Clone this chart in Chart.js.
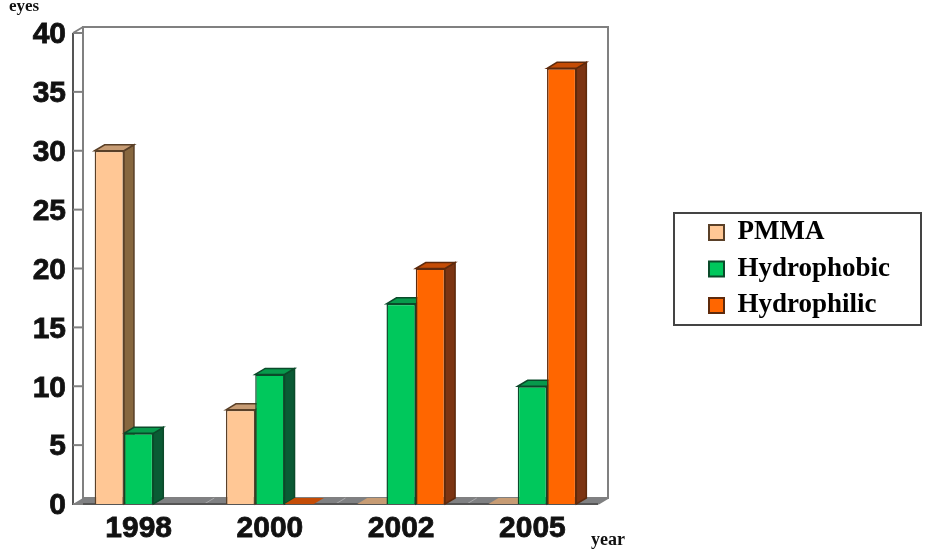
<!DOCTYPE html>
<html>
<head>
<meta charset="utf-8">
<style>html,body{margin:0;padding:0;background:#fff}canvas{display:block}</style>
<script src="https://cdn.jsdelivr.net/npm/chart.js@4"></script>
</head>
<body>
<canvas id="c" width="935" height="552"></canvas>
<script>
const categories = ['1998', '2000', '2002', '2005'];
const pmma = [30, 8, 0, 0];
const hydrophobic = [6, 11, 17, 10];
const hydrophilic = [null, 0, 20, 37];
const seriesNames = ['PMMA', 'Hydrophobic', 'Hydrophilic'];
const frontColors = ['#FFC795', '#00C85C', '#FF6600'];
const topColors = ['#C79C74', '#079A4C', '#C44C06'];
const sideColors = ['#87673F', '#0A5A34', '#7C3412'];
const edgeColors = ['#5A4028', '#0B4A2A', '#5E2A0C'];
const yTitle = 'eyes';
const xTitle = 'year';

const DX = 10, DY = 6;
const legendFrame = {x: 674, y: 213, w: 247, h: 112};
const legendAnchor = {x: 709, y: 219};

function poly(ctx, pts, fill, stroke) {
  ctx.beginPath();
  pts.forEach((p, i) => i ? ctx.lineTo(p[0], p[1]) : ctx.moveTo(p[0], p[1]));
  ctx.closePath();
  ctx.fillStyle = fill;
  ctx.fill();
  if (stroke) { ctx.strokeStyle = stroke; ctx.lineWidth = 1.5; ctx.stroke(); }
}

const scene = {
  id: 'scene',
  afterLayout(chart) {
    const l = chart.legend;
    const pad = l.options.labels.padding;
    const h = l.height;
    l.left = legendAnchor.x - pad;
    l.top = legendAnchor.y - pad;
    l.right = legendFrame.x + legendFrame.w;
    l.bottom = l.top + h + 40;
  },
  beforeDraw(chart) {
    const {ctx, chartArea: a, scales: {x, y}} = chart;
    ctx.save();
    // back wall + left wall
    ctx.strokeStyle = '#808080';
    ctx.lineWidth = 2;
    ctx.strokeRect(a.left + DX, a.top - DY, a.right - a.left, a.bottom - a.top);
    ctx.beginPath();
    ctx.moveTo(a.left, a.top); ctx.lineTo(a.left + DX, a.top - DY);
    ctx.moveTo(a.right, a.bottom); ctx.lineTo(a.right + DX, a.bottom - DY);
    ctx.stroke();
    // floor
    poly(ctx, [[a.left, a.bottom], [a.left + DX, a.bottom - DY], [a.right + DX, a.bottom - DY], [a.right, a.bottom]], '#7F8082');
    ctx.strokeStyle = '#A9A9AB';
    ctx.lineWidth = 1;
    for (let i = 1; i < categories.length; i++) {
      const px = (x.getPixelForValue(i - 1) + x.getPixelForValue(i)) / 2;
      ctx.beginPath(); ctx.moveTo(px, a.bottom); ctx.lineTo(px + DX, a.bottom - DY); ctx.stroke();
    }
    // left axis and ticks
    ctx.strokeStyle = '#555';
    ctx.lineWidth = 2;
    ctx.beginPath();
    ctx.moveTo(a.left, a.top); ctx.lineTo(a.left, a.bottom); ctx.lineTo(a.right, a.bottom);
    ctx.stroke();
    ctx.strokeStyle = '#808080';
    y.ticks.forEach(t => {
      const py = y.getPixelForValue(t.value);
      ctx.beginPath(); ctx.moveTo(a.left, py); ctx.lineTo(a.left + DX, py); ctx.stroke();
    });
    // legend frame
    ctx.strokeStyle = '#444';
    ctx.lineWidth = 2;
    ctx.strokeRect(legendFrame.x, legendFrame.y, legendFrame.w, legendFrame.h);
    // axis words
    ctx.fillStyle = '#111';
    ctx.textAlign = 'left';
    ctx.textBaseline = 'alphabetic';
    ctx.font = 'bold 17px "Liberation Serif"';
    ctx.fillText(yTitle, 9, 11);
    ctx.font = 'bold 18px "Liberation Serif"';
    ctx.fillText(xTitle, 591, 545);
    ctx.restore();
  },
  beforeDatasetsDraw(chart) {
    const ctx = chart.ctx;
    ctx.save();
    categories.forEach((_, c) => {
      chart.data.datasets.forEach((ds, d) => {
        if (ds.data[c] === null) return;
        const b = chart.getDatasetMeta(d).data[c];
        const l = b.x - b.width / 2, r = b.x + b.width / 2;
        if (b.base - b.y > 0.5) {
          poly(ctx, [[r, b.y], [r + DX, b.y - DY], [r + DX, b.base - DY], [r, b.base]], sideColors[d], edgeColors[d]);
        }
        poly(ctx, [[l, b.y], [l + DX, b.y - DY], [r + DX, b.y - DY], [r, b.y]], topColors[d], b.base - b.y > 0.5 ? edgeColors[d] : null);
      });
    });
    ctx.restore();
  }
};

const series = [pmma, hydrophobic, hydrophilic];
new Chart(document.getElementById('c'), {
  type: 'bar',
  plugins: [scene],
  data: {
    labels: categories,
    datasets: series.map((values, i) => ({
      label: seriesNames[i],
      data: values,
      backgroundColor: frontColors[i],
      borderColor: edgeColors[i],
      borderWidth: values.map(v => v ? 1.5 : 0),
      categoryPercentage: 0.67,
      barPercentage: 1
    }))
  },
  options: {
    responsive: false,
    animation: false,
    layout: {padding: {left: 0, top: 33, right: 337, bottom: 0}},
    plugins: {
      title: {display: false},
      tooltip: {enabled: false},
      legend: {
        position: 'chartArea',
        align: 'start',
        labels: {
          color: '#111',
          boxWidth: 15,
          boxHeight: 15,
          padding: 9.5,
          font: {family: '"Liberation Serif"', weight: 'bold', size: 27},
          generateLabels(chart) {
            return chart.data.datasets.map((ds, i) => ({
              text: ds.label, fillStyle: frontColors[i], strokeStyle: edgeColors[i],
              lineWidth: 2, datasetIndex: i, hidden: false
            }));
          }
        }
      }
    },
    scales: {
      x: {
        afterFit(s) { s.height = 48; },
        grid: {display: false, drawTicks: false},
        border: {display: false},
        ticks: {
          color: '#111', padding: 7, maxRotation: 0,
          textStrokeColor: '#111', textStrokeWidth: 0.8,
          font: {family: '"Liberation Sans"', weight: 'bold', size: 30}
        }
      },
      y: {
        min: 0, max: 40,
        afterFit(s) { s.width = 73; },
        grid: {display: false, drawTicks: false},
        border: {display: false},
        ticks: {
          stepSize: 5, color: '#111', padding: 7, labelOffset: 2,
          textStrokeColor: '#111', textStrokeWidth: 0.8,
          font: {family: '"Liberation Sans"', weight: 'bold', size: 30}
        }
      }
    }
  }
});
</script>
</body>
</html>
